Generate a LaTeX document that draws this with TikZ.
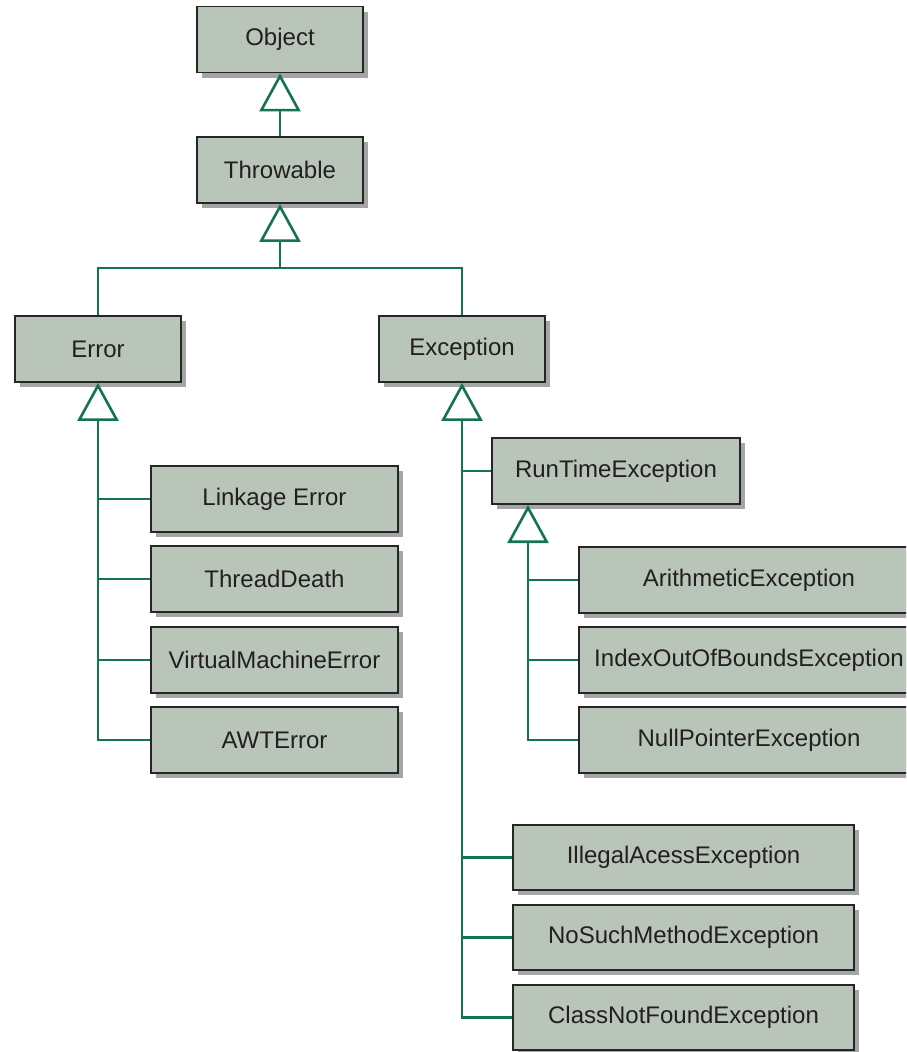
\documentclass[tikz,border=0pt]{standalone}
\usepackage{fontspec}
\setmainfont{Liberation Sans}
\usetikzlibrary{arrows.meta,shadows}
\definecolor{boxfill}{RGB}{184,197,184}
\definecolor{linegreen}{RGB}{18,116,80}
\definecolor{txt}{RGB}{35,31,32}
\definecolor{shadowgray}{RGB}{165,165,165}
\tikzset{
  box/.style={draw=black!85, line width=1.8pt, fill=boxfill, text=txt,
    minimum height=66pt, inner sep=0pt, font=\fontsize{24}{27}\selectfont,
    drop shadow={shadow xshift=5pt, shadow yshift=-5pt, fill=shadowgray, opacity=1}},
  link/.style={draw=linegreen, line width=2.6pt},
  inherit/.style={link, -{Triangle[open, fill=white, length=38pt, width=41pt, line width=2.6pt]}}
}
\begin{document}
\begin{tikzpicture}[x=1pt,y=-1pt]
\path[use as bounding box, clip] (0,0) rectangle (906,1052);
% nodes
\node[box, minimum width=166pt] (object) at (280,39.5) {Object};
\node[box, minimum width=166pt] (throwable) at (280,170) {Throwable};
\node[box, minimum width=166pt] (error) at (98,349) {Error};
\node[box, minimum width=166pt] (exception) at (462,349) {Exception};
\node[box, minimum width=247pt] (linkage) at (274.5,499) {Linkage Error};
\node[box, minimum width=247pt] (threaddeath) at (274.5,579) {ThreadDeath};
\node[box, minimum width=247pt] (vme) at (274.5,660) {VirtualMachineError};
\node[box, minimum width=247pt] (awt) at (274.5,740) {AWTError};
\node[box, minimum width=248pt] (runtime) at (616,471) {RunTimeException};
\node[box, minimum width=340pt] (arith) at (749,580) {ArithmeticException};
\node[box, minimum width=340pt] (index) at (749,660) {IndexOutOfBoundsException};
\node[box, minimum width=340pt] (nullp) at (749,740) {NullPointerException};
\node[box, minimum width=341pt, minimum height=65pt] (illegal) at (683.5,857.5) {IllegalAcessException};
\node[box, minimum width=341pt, minimum height=65pt] (nosuch) at (683.5,937.5) {NoSuchMethodException};
\node[box, minimum width=341pt, minimum height=65pt] (classnf) at (683.5,1017.5) {ClassNotFoundException};
% connectors
\draw[inherit] (throwable.north) -- (object.south);
\coordinate (tj) at (280,268);
\draw[link] (error.north) |- (tj) -| (exception.north);
\draw[inherit] (tj) -- (throwable.south);
% Error subtree
\draw[inherit] (awt.west) -| (error.south);
\draw[link] (linkage.west) -- (linkage.west -| error.south);
\draw[link] (threaddeath.west) -- (threaddeath.west -| error.south);
\draw[link] (vme.west) -- (vme.west -| error.south);
% Exception subtree
\draw[inherit] (classnf.west) -| (exception.south);
\draw[link] (runtime.west) -- (runtime.west -| exception.south);
\draw[link] (illegal.west) -- (illegal.west -| exception.south);
\draw[link] (nosuch.west) -- (nosuch.west -| exception.south);
% RunTime subtree
\coordinate (rtx) at (528,505);
\draw[inherit] (nullp.west) -| (rtx);
\draw[link] (arith.west) -- (arith.west -| rtx);
\draw[link] (index.west) -- (index.west -| rtx);
\end{tikzpicture}
\end{document}
